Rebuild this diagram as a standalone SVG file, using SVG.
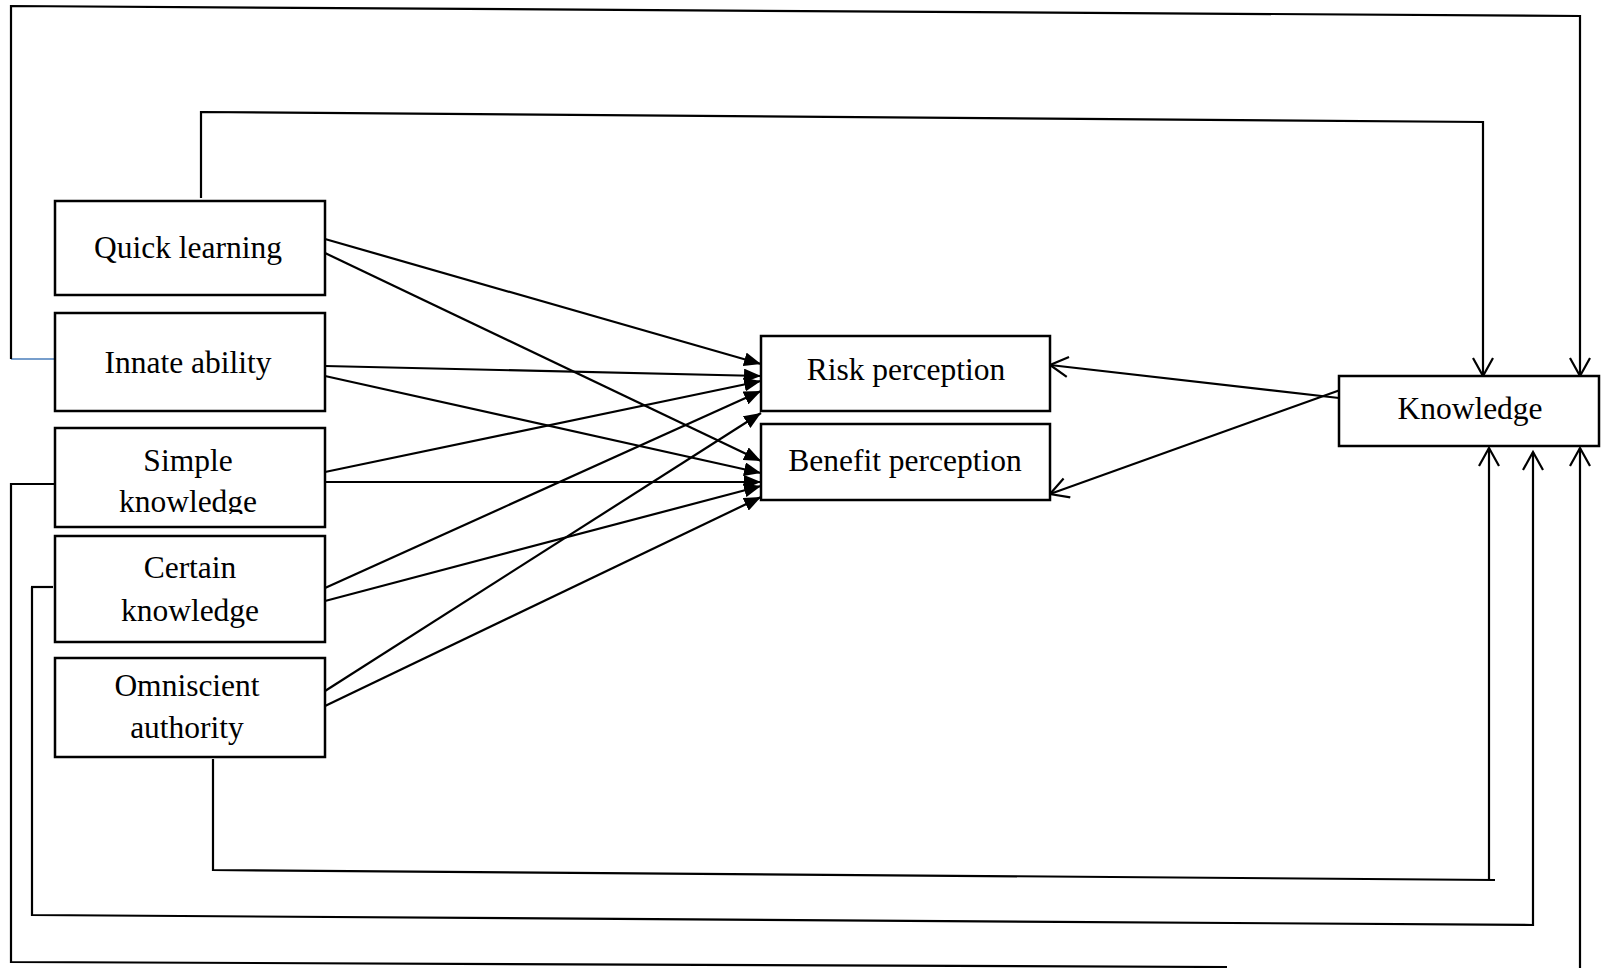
<svg xmlns="http://www.w3.org/2000/svg" width="1601" height="968" viewBox="0 0 1601 968">
  <style>
    .box { fill: #ffffff; stroke: #000000; stroke-width: 2.5; }
    .lbl { font-family: "Liberation Serif", "Times New Roman", serif; font-size: 31.5px; fill: #000000; text-anchor: middle; }
    .ln { fill: none; stroke: #000000; stroke-width: 2.2; }
    .solid { marker-end: url(#solidHead); }
    .open { marker-end: url(#openHead); }
  </style>
  <defs>
    <marker id="solidHead" markerUnits="userSpaceOnUse" markerWidth="18" markerHeight="14" refX="17" refY="7" orient="auto">
      <path d="M0,0 L17,7 L0,14 z" fill="#000000"/>
    </marker>
    <marker id="openHead" markerUnits="userSpaceOnUse" markerWidth="22" markerHeight="24" refX="19" refY="11" orient="auto">
      <path d="M1,1 L19,11 L1,21" fill="none" stroke="#000000" stroke-width="2.2"/>
    </marker>
    <clipPath id="simpleClip">
      <rect x="55" y="428" width="270" height="86"/>
    </clipPath>
  </defs>

  <!-- connectors -->
  <g id="connectors">
    <!-- outer loop from Innate ability over the top into Knowledge -->
    <line x1="11" y1="359" x2="54" y2="359" stroke="#4a7ebb" stroke-width="1.5"/>
    <polyline class="ln open" points="11,359 11,6 1580,16 1580,376"/>
    <!-- Quick learning over the top into Knowledge -->
    <polyline class="ln open" points="201,198 201,112 1483,122 1483,376"/>
    <!-- Omniscient authority under the bottom into Knowledge -->
    <polyline class="ln" points="213,759 213,870 1495,880"/>
    <line class="ln open" x1="1489" y1="880" x2="1489" y2="448"/>
    <!-- Certain knowledge under the bottom into Knowledge -->
    <polyline class="ln" points="31,587 53,587"/>
    <polyline class="ln open" points="32,587 32,915 1533,925 1533,452"/>
    <!-- Simple knowledge under the bottom -->
    <polyline class="ln" points="54,484 11,484 11,962 1227,967"/>
    <line class="ln open" x1="1580" y1="968" x2="1580" y2="448"/>

    <!-- predictors into Risk / Benefit perception -->
    <line class="ln solid" x1="325" y1="239" x2="761" y2="364"/>
    <line class="ln solid" x1="325" y1="253" x2="761" y2="461"/>
    <line class="ln solid" x1="325" y1="366" x2="761" y2="376"/>
    <line class="ln solid" x1="325" y1="376" x2="761" y2="473"/>
    <line class="ln solid" x1="325" y1="472" x2="761" y2="381"/>
    <line class="ln solid" x1="325" y1="482" x2="761" y2="482"/>
    <line class="ln solid" x1="325" y1="588" x2="761" y2="391"/>
    <line class="ln solid" x1="325" y1="601" x2="761" y2="486"/>
    <line class="ln solid" x1="325" y1="691" x2="761" y2="413"/>
    <line class="ln solid" x1="325" y1="706" x2="761" y2="497"/>

    <!-- Knowledge into Risk / Benefit perception -->
    <line class="ln open" x1="1339" y1="398" x2="1050" y2="365"/>
    <line class="ln open" x1="1343" y1="389" x2="1050" y2="494"/>
  </g>

  <!-- nodes -->
  <g id="quick-learning">
    <rect class="box" x="55" y="201" width="270" height="94"/>
    <text class="lbl" x="188" y="258">Quick learning</text>
  </g>
  <g id="innate-ability">
    <rect class="box" x="55" y="313" width="270" height="98"/>
    <text class="lbl" x="188" y="373">Innate ability</text>
  </g>
  <g id="simple-knowledge">
    <rect class="box" x="55" y="428" width="270" height="99"/>
    <text class="lbl" x="188" y="471">Simple</text>
    <text class="lbl" x="188" y="512" clip-path="url(#simpleClip)">knowledge</text>
  </g>
  <g id="certain-knowledge">
    <rect class="box" x="55" y="536" width="270" height="106"/>
    <text class="lbl" x="190" y="578">Certain</text>
    <text class="lbl" x="190" y="621">knowledge</text>
  </g>
  <g id="omniscient-authority">
    <rect class="box" x="55" y="658" width="270" height="99"/>
    <text class="lbl" x="187" y="696">Omniscient</text>
    <text class="lbl" x="187" y="738">authority</text>
  </g>
  <g id="risk-perception">
    <rect class="box" x="761" y="336" width="289" height="75"/>
    <text class="lbl" x="906" y="380">Risk perception</text>
  </g>
  <g id="benefit-perception">
    <rect class="box" x="761" y="424" width="289" height="76"/>
    <text class="lbl" x="905" y="471">Benefit perception</text>
  </g>
  <g id="knowledge">
    <rect class="box" x="1339" y="376" width="260" height="70"/>
    <text class="lbl" x="1470" y="419">Knowledge</text>
  </g>
</svg>
